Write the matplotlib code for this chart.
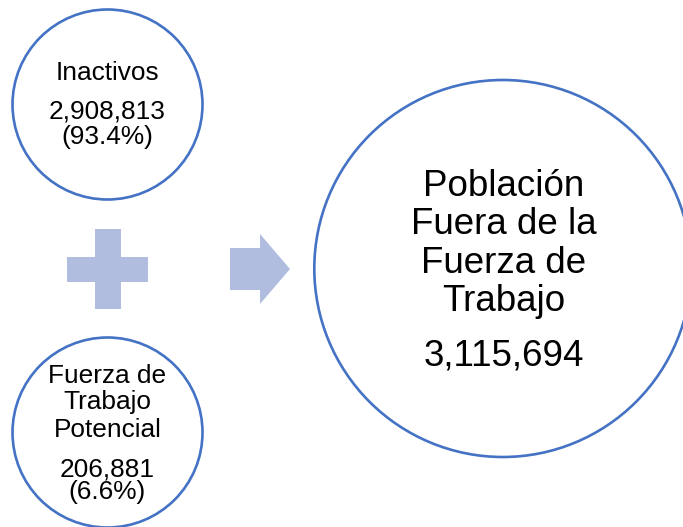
import matplotlib
matplotlib.use("Agg")
import matplotlib.pyplot as plt
from matplotlib.patches import Circle, Polygon

# Data
part_labels = ["Inactivos", "Fuerza de\nTrabajo\nPotencial"]
part_values = ["2,908,813", "206,881"]
part_shares = ["(93.4%)", "(6.6%)"]
total_label = "Población\nFuera de la\nFuerza de\nTrabajo"
total_value = "3,115,694"

W, H = 683, 527
fig = plt.figure(figsize=(W / 100, H / 100), dpi=100)
ax = fig.add_axes([0, 0, 1, 1])
ax.set_xlim(0, W)
ax.set_ylim(H, 0)
ax.set_aspect("equal")
ax.axis("off")

edge = "#4472C4"
shape_col = "#B0BDDF"
font = ["Liberation Sans", "DejaVu Sans"]

# circles
for (cx, cy, r) in [(107.5, 104.5, 95), (107.5, 432.5, 95), (502.8, 268.5, 188.5)]:
    ax.add_patch(Circle((cx, cy), r, facecolor="white", edgecolor=edge, lw=1.9, zorder=2))

# plus sign
ax.add_patch(Polygon([(67, 257), (95, 257), (95, 229), (121, 229), (121, 257), (148, 257),
                      (148, 282), (121, 282), (121, 309), (95, 309), (95, 282), (67, 282)],
                     closed=True, facecolor=shape_col, edgecolor="none", zorder=2))
# arrow
ax.add_patch(Polygon([(230, 248), (260, 248), (260, 234), (290, 269), (260, 304), (260, 290), (230, 290)],
                     closed=True, facecolor=shape_col, edgecolor="none", zorder=2))

fs_small = 18.9
fs_big = 26.5

def lines(x, baselines, texts, fs):
    for y, t in zip(baselines, texts):
        ax.text(x, y, t, ha="center", va="baseline", fontsize=fs, family=font, color="black", zorder=3)

# top circle
lines(107.5, [80, 119, 144],
      part_labels[0].split("\n") + [part_values[0], part_shares[0]], fs_small)
# bottom circle
lines(107.5, [383, 409.5, 437, 476, 499],
      part_labels[1].split("\n") + [part_values[1], part_shares[1]], fs_small)
# big circle
lines(504, [196, 234.5, 273, 311, 366],
      total_label.split("\n") + [total_value], fs_big)

fig.savefig("out.png", dpi=100)
